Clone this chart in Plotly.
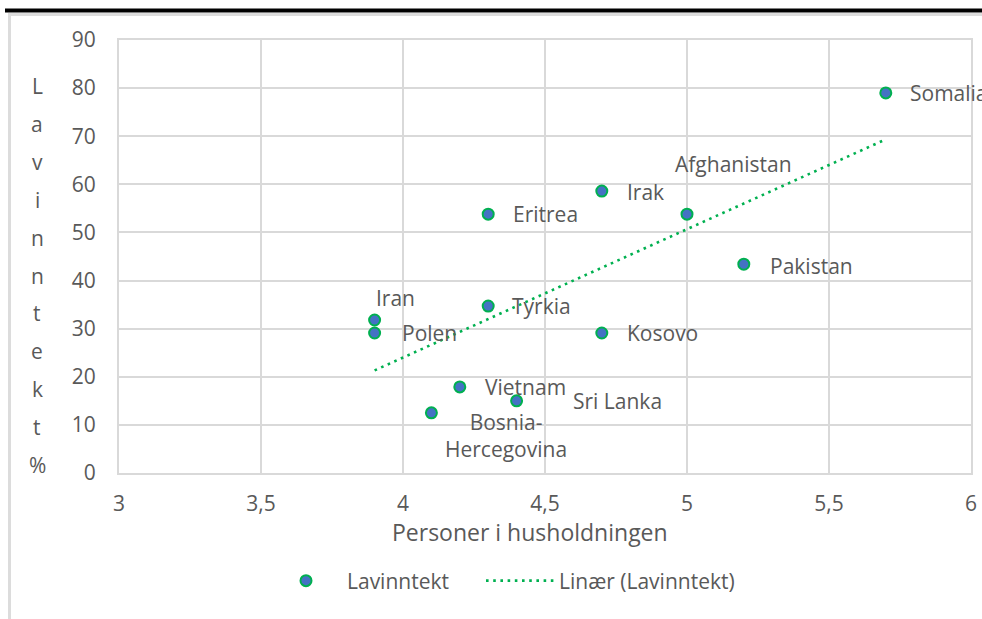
import numpy as np
import plotly.graph_objects as go

# Household size vs. share with low income, by country of origin
countries = ["Somalia", "Irak", "Afghanistan", "Eritrea", "Pakistan", "Tyrkia",
             "Iran", "Polen", "Kosovo", "Vietnam", "Sri Lanka", "Bosnia-<br>Hercegovina"]
persons = [5.7, 4.7, 5.0, 4.3, 5.2, 4.3, 3.9, 3.9, 4.7, 4.2, 4.4, 4.1]
low_income = [79.0, 58.6, 53.8, 53.8, 43.4, 34.7, 31.8, 29.1, 29.1, 17.9, 15.0, 12.5]

# label offsets in px (xshift, yshift, anchor)
label_pos = [(22, 0, "left"), (23, -1, "left"), (-14, 50, "left"), (23, 0, "left"),
             (24, -2, "left"), (22, 0, "left"), (-1, 22, "left"), (25, 0, "left"),
             (23, 0, "left"), (23, 0, "left"), (54, 0, "left"), (75, -23, "center")]

x_ticks = [3, 3.5, 4, 4.5, 5, 5.5, 6]
y_ticks = [0, 10, 20, 30, 40, 50, 60, 70, 80, 90]
y_title = "Lavinntekt%"
x_title = "Personer i husholdningen"

W, H = 982, 619
L, R, T, B = 119, 11, 40, 146
PW, PH = W - L - R, H - T - B

def px(x):
    return (x - L) / PW

def py(y):
    return (H - B - y) / PH

FONT = "Open Sans"
GREY = "#595959"
GRID = "#d9d9d9"
BLUE = "#4472c4"
GREEN = "#00b050"

# least-squares trend line over the data span
slope, intercept = np.polyfit(persons, low_income, 1)
tx = np.array([min(persons), max(persons)])
ty = slope * tx + intercept

fig = go.Figure()
fig.add_trace(go.Scatter(
    x=persons, y=low_income, mode="markers", name="Lavinntekt", legend="legend",
    marker=dict(size=11, color=BLUE, line=dict(color=GREEN, width=2)),
))
fig.add_trace(go.Scatter(
    x=tx, y=ty, mode="lines", name="Linær (Lavinntekt)", legend="legend2",
    line=dict(color=GREEN, width=2.6, dash="2.6px,4.6px"),
))

annotations = []
for name, xv, yv, (dx, dy, anc) in zip(countries, persons, low_income, label_pos):
    annotations.append(dict(
        x=xv, y=yv, xref="x", yref="y", text=name, showarrow=False,
        xanchor=anc, yanchor="middle", xshift=dx, yshift=dy, align="center",
        font=dict(family=FONT, size=21, color=GREY),
    ))

# stacked letters of the vertical axis title
n = len(y_title)
top_c, bot_c = 86, 465
for i, ch in enumerate(y_title):
    cy = top_c + (bot_c - top_c) * i / (n - 1)
    annotations.append(dict(
        x=px(37), y=py(cy), xref="paper", yref="paper", text=ch, showarrow=False,
        xanchor="center", yanchor="middle",
        font=dict(family=FONT, size=21, color=GREY),
    ))

annotations.append(dict(
    x=px(530), y=py(532), xref="paper", yref="paper", text=x_title, showarrow=False,
    xanchor="center", yanchor="middle",
    font=dict(family=FONT, size=23, color=GREY),
))

shapes = [
    # page rule above the chart
    dict(type="line", xref="paper", yref="paper", x0=px(5), x1=px(990),
         y0=py(10.5), y1=py(10.5), line=dict(color="black", width=4)),
    # chart frame
    dict(type="line", xref="paper", yref="paper", x0=px(9.5), x1=px(990),
         y0=py(14.5), y1=py(14.5), line=dict(color="#dcdcdc", width=3)),
    dict(type="line", xref="paper", yref="paper", x0=px(9.5), x1=px(9.5),
         y0=py(13), y1=py(625), line=dict(color="#dcdcdc", width=3)),
]

legend_font = dict(family=FONT, size=21, color=GREY)
fig.update_layout(
    width=W, height=H,
    margin=dict(l=L, r=R, t=T, b=B, autoexpand=False),
    paper_bgcolor="white", plot_bgcolor="white",
    separators=", ",
    font=dict(family=FONT, size=21, color=GREY),
    showlegend=True,
    legend=dict(
        orientation="h", x=px(265), xanchor="left", y=py(581), yanchor="middle",
        itemwidth=72, font=legend_font, bgcolor="rgba(0,0,0,0)",
    ),
    legend2=dict(
        orientation="h", x=px(481), xanchor="left", y=py(581), yanchor="middle",
        itemwidth=68, font=legend_font, bgcolor="rgba(0,0,0,0)",
    ),
    annotations=annotations,
    shapes=shapes,
)
fig.update_xaxes(
    range=[3, 6], tickvals=x_ticks, showgrid=True, gridcolor=GRID, gridwidth=2,
    showline=True, linecolor=GRID, linewidth=2, mirror=True, zeroline=False,
    automargin=False,
    ticks="", ticklabelstandoff=11, tickfont=dict(family=FONT, size=21, color=GREY),
)
fig.update_yaxes(
    range=[0, 90], tickvals=y_ticks, showgrid=True, gridcolor=GRID, gridwidth=2,
    showline=True, linecolor=GRID, linewidth=2, mirror=True, zeroline=False,
    automargin=False,
    ticks="", ticklabelstandoff=17, tickfont=dict(family=FONT, size=21, color=GREY),
)

fig.write_html("out.html")
